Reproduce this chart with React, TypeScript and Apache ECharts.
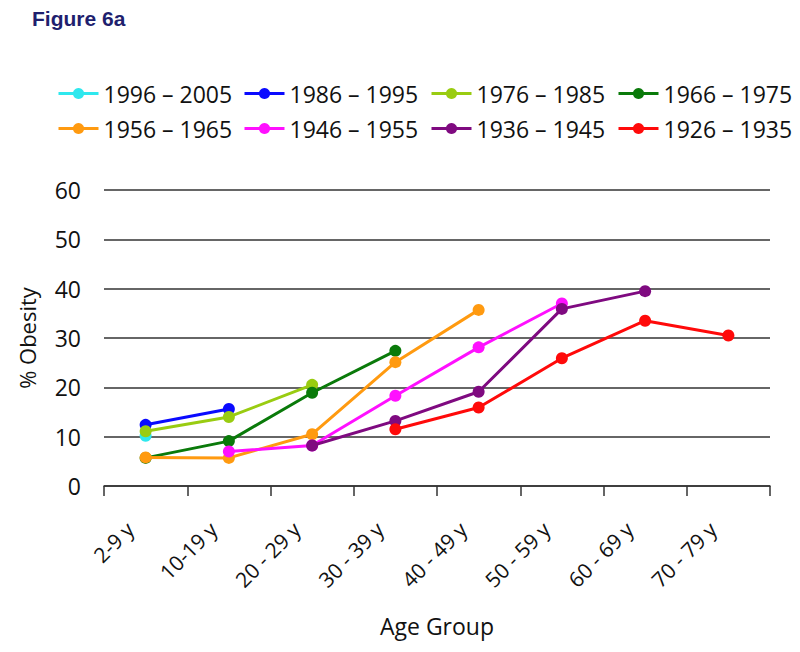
import React, { useEffect, useRef } from "react";
import * as echarts from "echarts";

const categories = ["2-9 y", "10-19 y", "20 - 29 y", "30 - 39 y", "40 - 49 y", "50 - 59 y", "60 - 69 y", "70 - 79 y"];
const seriesNames = ["1996 – 2005", "1986 – 1995", "1976 – 1985", "1966 – 1975", "1956 – 1965", "1946 – 1955", "1936 – 1945", "1926 – 1935"];
const seriesColors = ["#2ee8ee", "#0a0aff", "#99cc11", "#0a7a0a", "#ff9a10", "#ff10ff", "#7f0a80", "#ff0a0a"];

const c1996 = [10.2, null, null, null, null, null, null, null];
const c1986 = [12.4, 15.6, null, null, null, null, null, null];
const c1976 = [11.1, 14.0, 20.5, null, null, null, null, null];
const c1966 = [5.7, 9.1, 18.9, 27.4, null, null, null, null];
const c1956 = [5.8, 5.7, 10.5, 25.1, 35.7, null, null, null];
const c1946 = [null, 7.0, 8.2, 18.3, 28.1, 37.0, null, null];
const c1936 = [null, null, 8.2, 13.2, 19.1, 35.9, 39.5, null];
const c1926 = [null, null, null, 11.5, 15.9, 25.9, 33.5, 30.5];

const yTicks = { min: 0, max: 60, interval: 10 };

export default function App() {
  const ref = useRef<HTMLDivElement>(null);
  useEffect(() => {
    if (!ref.current) return;
    const chart = echarts.init(ref.current, null, { renderer: "svg" });
    const all = [c1996, c1986, c1976, c1966, c1956, c1946, c1936, c1926];
    const font = "'Open Sans', 'Noto Sans', sans-serif";
    const legendPos = [
      [49, 74], [235, 74], [422, 74], [609, 74],
      [49, 109], [235, 109], [422, 109], [609, 109],
    ];
    chart.setOption({
      animation: false,
      backgroundColor: "#ffffff",
      title: {
        text: "Figure 6a",
        left: 24,
        top: 0,
        padding: 0,
        textStyle: { fontFamily: "'Liberation Sans', Arial, sans-serif", fontWeight: "bold", fontSize: 21, color: "#1f1f6e" },
      },
      legend: seriesNames.map((n, i) => ({
        data: [n],
        left: legendPos[i][0],
        top: legendPos[i][1],
        itemWidth: 40,
        itemHeight: 14,
        itemGap: 6,
        padding: 0,
        lineStyle: { width: 3 },
        textStyle: { fontFamily: font, fontSize: 23, color: "#111" },
      })),
      grid: { left: 95, right: 22, top: 182, bottom: 158 },
      xAxis: {
        type: "category",
        data: categories,
        boundaryGap: true,
        name: "Age Group",
        nameLocation: "middle",
        nameGap: 128,
        nameTextStyle: { fontFamily: font, fontSize: 23, color: "#111" },
        axisLine: { lineStyle: { color: "#333", width: 1.5 } },
        axisTick: { show: true, length: 10, alignWithLabel: false, lineStyle: { color: "#333", width: 1.5 } },
        axisLabel: { rotate: 45, fontFamily: font, fontSize: 21, color: "#111", margin: 24, padding: [0, 22, 0, 0], interval: 0 },
        splitLine: { show: false },
      },
      yAxis: {
        type: "value",
        min: yTicks.min,
        max: yTicks.max,
        interval: yTicks.interval,
        name: "% Obesity",
        nameLocation: "middle",
        nameGap: 66,
        nameTextStyle: { fontFamily: font, fontSize: 22, color: "#111" },
        axisLine: { show: false },
        axisTick: { show: false },
        axisLabel: { fontFamily: font, fontSize: 23, color: "#111", margin: 23 },
        splitLine: { lineStyle: { color: "#333", width: 1.5 } },
      },
      series: seriesNames.map((n, i) => ({
        name: n,
        type: "line",
        data: all[i],
        connectNulls: false,
        symbol: "circle",
        symbolSize: 12,
        showSymbol: true,
        color: seriesColors[i],
        lineStyle: { width: 3, color: seriesColors[i] },
        itemStyle: { color: seriesColors[i] },
        z: 2 + i,
      })),
    });
    return () => chart.dispose();
  }, []);
  return <div ref={ref} style={{ width: 784, height: 636 }} />;
}
